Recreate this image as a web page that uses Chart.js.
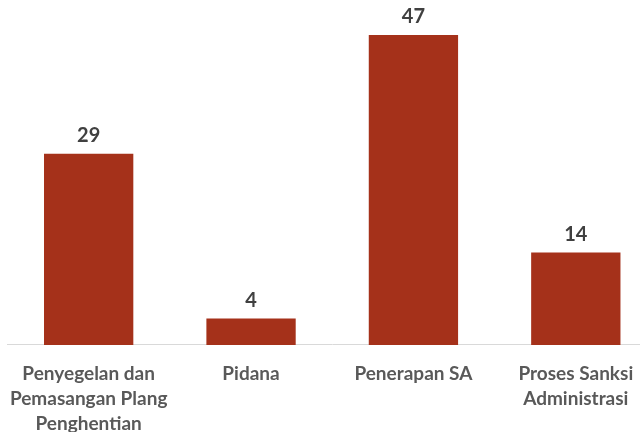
<!DOCTYPE html>
<html>
<head>
<meta charset="utf-8">
<script src="https://cdn.jsdelivr.net/npm/chart.js@4/dist/chart.umd.min.js"></script>
<style>
  html, body { margin: 0; padding: 0; background: #fff; overflow: hidden; }
  #wrap { position: relative; width: 660px; height: 445px; }
</style>
</head>
<body>
<div id="wrap"><canvas id="myChart"></canvas></div>
<script>
// data
var categories = [
    ['Penyegelan dan', 'Pemasangan Plang', 'Penghentian'],
    'Pidana',
    'Penerapan SA',
    ['Proses Sanksi', 'Administrasi']
];
var jumlah = [29, 4, 47, 14];

// draws the value above each bar
var valueLabels = {
    id: 'valueLabels',
    afterDatasetsDraw: function(chart){
        var ctx = chart.ctx;
        var meta = chart.getDatasetMeta(0);
        ctx.save();
        ctx.font = 'bold 20px Lato';
        ctx.fillStyle = '#404040';
        ctx.textAlign = 'center';
        ctx.textBaseline = 'bottom';
        for(var i = 0; i < meta.data.length; i++){
            var bar = meta.data[i];
            ctx.fillText(jumlah[i], bar.x, bar.y - 8);
        }
        ctx.restore();
    }
};

var ctx = document.getElementById('myChart');
var myChart = new Chart(ctx, {
    type: 'bar',
    data: {
        labels: categories,
        datasets: [{
            data: jumlah,
            backgroundColor: '#A5311A',
            borderWidth: 0,
            categoryPercentage: 1,
            barPercentage: 0.55
        }]
    },
    options: {
        responsive: true,
        maintainAspectRatio: false,
        animation: false,
        layout: { padding: { left: 7, right: 3, top: 2, bottom: 0 } },
        plugins: {
            legend: { display: false },
            tooltip: { enabled: false }
        },
        scales: {
            x: {
                grid: { display: false },
                border: { color: '#d9d9d9', width: 1 },
                ticks: {
                    color: '#595959',
                    font: { family: 'Lato', size: 19, weight: 'bold', lineHeight: 1.3 },
                    padding: 9,
                    maxRotation: 0,
                    autoSkip: false
                }
            },
            y: {
                display: false,
                min: 0,
                max: 52
            }
        }
    },
    plugins: [valueLabels]
});
</script>
</body>
</html>
